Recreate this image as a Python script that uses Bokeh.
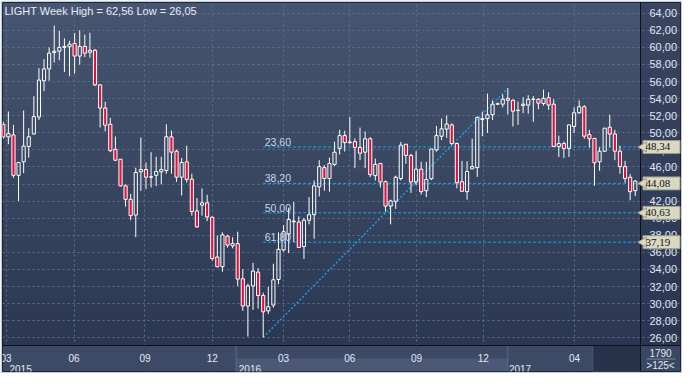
import numpy as np
from bokeh.plotting import figure
from bokeh.models import Range1d, FixedTicker, Label, LinearAxis, ColumnDataSource
from bokeh.embed import file_html
from bokeh.resources import INLINE

# ---- data (weekly candles) ----
opens = [50.99, 49.52, 49.75, 45.02, 46.6, 48.4, 49.86, 51.85, 56.09, 57.48,
         59.39, 59.55, 60.0, 60.07, 60.45, 58.98, 60.11, 59.43, 59.66, 55.61,
         52.9, 50.99, 48.06, 46.9, 43.79, 42.21, 40.37, 45.44, 45.7, 44.8,
         45.02, 45.44, 45.59, 49.53, 47.84, 44.8, 46.6, 44.57, 40.86, 41.53,
         41.8, 40.11, 35.46, 34.33, 37.9, 36.77, 37.03, 32.91, 29.72, 32.08,
         33.69, 30.95, 29.15, 29.83, 32.83, 36.28, 38.16, 39.58, 39.55, 36.7,
         39.77, 40.41, 43.67, 45.92, 44.65, 46.3, 48.17, 49.67, 48.85, 48.96,
         48.29, 47.73, 49.3, 44.99, 46.41, 44.27, 41.42, 41.98, 44.65, 48.66,
         47.35, 44.24, 45.74, 43.22, 44.61, 47.99, 49.6, 50.43, 50.92, 48.74,
         44.27, 43.11, 45.77, 45.92, 51.55, 51.66, 52.11, 53.35, 53.35, 54.03,
         53.8, 52.6, 53.2, 53.24, 53.9, 53.92, 53.43, 54.1, 53.35, 48.4,
         48.74, 48.17, 50.73, 52.34, 53.05, 49.79, 49.34, 46.6, 47.84, 50.65,
         49.86, 47.84, 46.04, 44.8, 43.22]
highs = [51.3, 52.49, 50.92, 46.6, 52.6, 50.54, 54.29, 57.56, 58.61, 60.0,
         62.56, 61.91, 61.05, 60.78, 61.68, 61.98, 61.5, 61.72, 59.81, 55.68,
         53.62, 51.74, 49.56, 46.9, 43.97, 42.85, 45.92, 49.45, 46.53, 47.73,
         47.2, 47.2, 50.99, 50.27, 48.02, 47.05, 48.48, 45.21, 42.36, 43.49,
         42.74, 40.22, 37.97, 38.35, 38.05, 37.78, 38.42, 34.03, 32.34, 34.78,
         34.14, 31.29, 31.97, 34.67, 38.35, 39.18, 41.23, 41.91, 40.22, 40.03,
         42.47, 44.42, 46.79, 46.22, 47.09, 48.96, 50.35, 50.24, 51.85, 49.34,
         50.61, 50.16, 49.49, 46.97, 46.41, 44.42, 42.17, 44.99, 48.93, 48.66,
         47.54, 47.84, 46.6, 46.6, 48.1, 50.8, 51.66, 52.04, 51.1, 48.85,
         46.71, 46.67, 49.3, 51.93, 52.49, 54.59, 53.8, 53.55, 54.48, 55.2195,
         53.92, 53.65, 54.18, 54.4, 54.29, 54.03, 55.04, 54.74, 53.92, 49.67,
         48.96, 50.95, 52.98, 53.8, 53.24, 50.35, 49.41, 48.29, 50.54, 52.11,
         50.35, 48.48, 46.71, 45.17, 44.46]
lows = [49.3, 48.66, 44.72, 42.02, 45.29, 47.09, 49.8, 51.48, 54.86, 56.09,
        58.23, 58.49, 57.11, 56.62, 56.92, 57.97, 58.87, 58.79, 55.46, 50.62,
        50.17, 47.73, 46.68, 43.71, 41.35, 39.77, 37.78, 43.19, 43.41, 43.6,
        43.75, 43.97, 45.21, 45.21, 44.24, 42.66, 44.16, 40.3, 38.91, 40.3,
        39.66, 35.04, 34.22, 33.73, 36.55, 36.47, 32.04, 29.15, 26.15, 29.27,
        29.42, 26.05, 28.78, 29.53, 32.27, 36.1, 35.91, 37.22, 36.55, 35.23,
        39.28, 37.6, 42.55, 43.22, 43.11, 46.11, 47.46, 47.8, 48.66, 45.85,
        46.79, 45.85, 44.8, 44.42, 43.6, 40.78, 39.28, 41.08, 44.42, 46.37,
        42.96, 43.86, 42.77, 42.47, 44.46, 47.8, 49.15, 49.41, 48.55, 43.49,
        43.11, 42.17, 45.77, 44.84, 49.6, 49.97, 51.48, 53.25, 52.98, 52.15,
        50.73, 50.92, 52.3, 52.23, 51.29, 52.75, 53.17, 52.68, 48.35, 47.16,
        47.05, 47.16, 49.97, 52.23, 49.3, 48.29, 43.79, 45.55, 47.73, 48.29,
        46.79, 45.21, 44.16, 42.1, 42.59]
closes = [49.52, 49.9, 45.02, 46.53, 48.44, 49.53, 51.89, 56.17, 57.48, 59.32,
          59.55, 60.0, 60.11, 60.37, 58.98, 60.11, 59.32, 59.66, 55.61, 52.9,
          50.88, 47.91, 46.79, 43.79, 42.21, 40.3, 45.36, 45.7, 44.8, 44.85,
          45.47, 45.7, 49.53, 47.73, 44.8, 46.53, 44.54, 40.78, 38.98, 41.8,
          40.15, 35.27, 34.33, 38.05, 36.85, 37.03, 32.87, 29.72, 32.08, 33.81,
          30.95, 29.04, 29.64, 32.79, 36.36, 38.42, 39.85, 39.66, 36.58, 39.77,
          40.41, 43.79, 46.04, 44.65, 46.41, 47.73, 49.67, 48.85, 48.93, 48.29,
          47.61, 49.3, 45.1, 46.3, 44.24, 41.42, 42.02, 44.8, 48.55, 47.35,
          44.24, 45.74, 43.11, 44.54, 48.1, 49.67, 50.46, 51.03, 48.74, 44.16,
          43.15, 45.47, 46.04, 51.78, 51.66, 52.11, 53.35, 53.4, 53.92, 53.8,
          52.53, 52.65, 53.35, 53.92, 53.95, 53.47, 54.03, 53.24, 48.4, 48.74,
          48.17, 50.92, 52.34, 53.05, 49.6, 49.3, 46.49, 47.84, 50.54, 49.86,
          47.84, 46.04, 44.65, 43.11, 44.35]

month_ticks = [0.55, 13.9, 27.8, 41.0, 55.0, 68.0, 81.1, 94.2, 112.1]
month_labels = ["03", "06", "09", "12", "03", "06", "09", "12", "04"]
year_ticks = [3.4, 48.4, 101.4]
year_labels = ["2015", "2016", "2017"]
year_starts = [45.7, 99.0]          # week positions where 2016 and 2017 begin
current_month_start = 115.7         # start of the last (current) month in the time strip
price_ticks = list(range(26, 65, 2))
fib_ratios = [0.236, 0.382, 0.5, 0.618]
trend_start, trend_end = 51, 99     # candle indices of the swing low / swing high
total_bars = 1790

def fmt(v):
    return f"{v:.2f}".replace(".", ",")

n = len(opens)
x = list(range(n))
up = [c >= o for o, c in zip(opens, closes)]
top = [max(o, c) for o, c in zip(opens, closes)]
bot = [min(o, c) for o, c in zip(opens, closes)]

# ---- layout (pixels) ----
B = 2                     # outer frame
FW, FH = 682 - 2 * B, 373 - 2 * B
RS, BS = 40, 26           # right price strip, bottom time strip
DW, DH = FW - RS, FH - BS
x0, x1 = -0.15, n + 0.03
y0, y1 = 25.1, 65.25
ux = (x1 - x0) / DW
uy = (y1 - y0) / DH
x_end = x1 + RS * ux
y_start = y0 - BS * uy
row = 13 * uy             # one row of the time strip

p = figure(frame_width=FW, frame_height=FH,
           x_range=Range1d(x0, x_end), y_range=Range1d(y_start, y1),
           y_axis_location="right", output_backend="svg", toolbar_location=None,
           min_border_left=B, min_border_top=B, min_border_right=B, min_border_bottom=B,
           border_fill_color="#c3ccd8", outline_line_color="#141a26")

def gradient(c_top, c_bot, ny=90):
    img = np.zeros((ny, 1), dtype=np.uint32)
    view = img.view(dtype=np.uint8).reshape((ny, 1, 4))
    for i, t in enumerate(np.linspace(0, 1, ny)):
        c = np.array(c_bot) * (1 - t) + np.array(c_top) * t
        view[i, 0, :3] = c.astype(np.uint8)
        view[i, 0, 3] = 255
    return img

# plot background and price strip background
p.image_rgba(image=[gradient((0x47, 0x56, 0x70), (0x2c, 0x38, 0x53))], x=x0, y=y0,
             dw=x1 - x0, dh=y1 - y0, level="image")
p.image_rgba(image=[gradient((0x3a, 0x46, 0x60), (0x2b, 0x36, 0x50))], x=x1, y=y0,
             dw=x_end - x1, dh=y1 - y0, level="image")

# grid
p.xgrid.ticker = FixedTicker(ticks=month_ticks)
p.ygrid.ticker = FixedTicker(ticks=price_ticks)
for g in (p.xgrid, p.ygrid):
    g.grid_line_color = "#5f6e8a"
    g.grid_line_dash = "2 3"
    g.grid_line_width = 1

# time strip (bottom) and corner box
p.quad(left=x0, right=x1, bottom=y_start, top=y0, fill_color="#3d4a66", line_color=None)
p.quad(left=year_starts[0], right=year_starts[1], bottom=y_start, top=y0 - row,
       fill_color="#4b5977", line_color=None)
p.segment(x0=year_starts, y0=[y_start] * 2, x1=year_starts, y1=[y0] * 2,
          line_color="#5d6b8a", line_width=1)
p.quad(left=current_month_start, right=x1, bottom=y_start, top=y0,
       fill_color="#28324a", line_color="#46536e")
p.quad(left=x1, right=x_end, bottom=y_start, top=y0, fill_color="#3a4762", line_color=None)
p.segment(x0=[x1 + 6 * ux], y0=[y0 - 13.5 * uy], x1=[x_end - 5 * ux], y1=[y0 - 13.5 * uy],
          line_color="#7c8aa4", line_width=1)

# fibonacci retracement
lo = lows[trend_start]
hi = highs[trend_end]
levels = [hi - r * (hi - lo) for r in fib_ratios]
p.line([trend_start, trend_end], [lo, hi], line_color="#1d9be0", line_width=1.5, line_dash="2 2")
for r, lv in zip(fib_ratios, levels):
    p.line([trend_start, x1], [lv, lv], line_color="#14a6ee", line_width=1, line_dash="3 2")
    p.add_layout(Label(x=trend_start + 0.3, y=lv, text=f"{r*100:.2f}".replace(".", ","),
                       text_color="#c9d6ea", text_font="Liberation Sans", text_font_size="10.5px",
                       text_baseline="bottom", y_offset=1))

# candles
src = ColumnDataSource(dict(x=x, o=opens, h=highs, l=lows, c=closes, top=top, bot=bot,
                            fill=["#00000000" if u else "#e3103c" for u in up]))
p.segment(x0="x", y0="top", x1="x", y1="h", source=src, line_color="white", line_width=1)
p.segment(x0="x", y0="bot", x1="x", y1="l", source=src, line_color="white", line_width=1)
p.vbar(x="x", top="top", bottom="bot", width=0.62, source=src,
       fill_color="fill", line_color="white", line_width=1)

# axes (fixed inside the frame, at the edges of the plotting area)
ya = p.yaxis[0]
ya.fixed_location = x1
ya.ticker = FixedTicker(ticks=price_ticks)
ya.major_label_overrides = {v: fmt(v) for v in price_ticks}
xa = p.xaxis[0]
xa.fixed_location = y0
xa.ticker = FixedTicker(ticks=month_ticks)
xa.major_label_overrides = {t: l for t, l in zip(month_ticks, month_labels)}
yax = LinearAxis(ticker=FixedTicker(ticks=year_ticks), fixed_location=y0,
                 major_label_overrides={t: l for t, l in zip(year_ticks, year_labels)})
p.add_layout(yax, "below")
for ax in (ya, xa, yax):
    ax.major_tick_line_color = None
    ax.minor_tick_line_color = None
    ax.major_label_text_color = "#e0e8f4"
    ax.major_label_text_font = "Liberation Sans"
    ax.major_label_text_font_size = "10px"
    ax.axis_line_color = "#0c1018"
ya.major_label_text_font_size = "11px"
ya.major_label_standoff = 3
xa.major_label_standoff = 2
yax.axis_line_color = None
yax.major_label_standoff = 13

# level tags on the price strip
tag_x = [x1 + 21 * ux] * len(levels)
p.rect(x=tag_x, y=levels, width=37, height=13, width_units="screen", height_units="screen",
       fill_color="#d9d9c3", line_color="#9a9a86", level="overlay")
p.scatter(x=[x1 + 3 * ux] * len(levels), y=levels, marker="triangle", angle=np.pi / 2, size=10,
          fill_color="#d9d9c3", line_color="#9a9a86", level="overlay")
p.text(x=[x1 + 5 * ux] * len(levels), y=levels, text=[fmt(v) for v in levels],
       text_baseline="middle", text_color="#111111", text_font_size="11px",
       text_font="Liberation Sans", level="overlay")

# title and bar counters
p.add_layout(Label(x=2, y=FH - 2, x_units="screen", y_units="screen",
                   text=f"LIGHT Week High = {fmt(max(highs))} Low = {fmt(min(lows))}",
                   text_color="#e6ecf5", text_font="Liberation Sans", text_font_size="11px",
                   text_baseline="top"))
cx = (x1 + x_end) / 2
p.add_layout(Label(x=cx, y=y0 - 7 * uy, text=str(total_bars), text_align="center",
                   text_baseline="middle", text_color="#e0e8f4", text_font="Liberation Sans",
                   text_font_size="10px"))
p.add_layout(Label(x=cx, y=y0 - 19.5 * uy, text=f">{n}<", text_align="center",
                   text_baseline="middle", text_color="#e0e8f4", text_font="Liberation Sans",
                   text_font_size="10px"))

open("out.html", "w").write(file_html(p, INLINE))
